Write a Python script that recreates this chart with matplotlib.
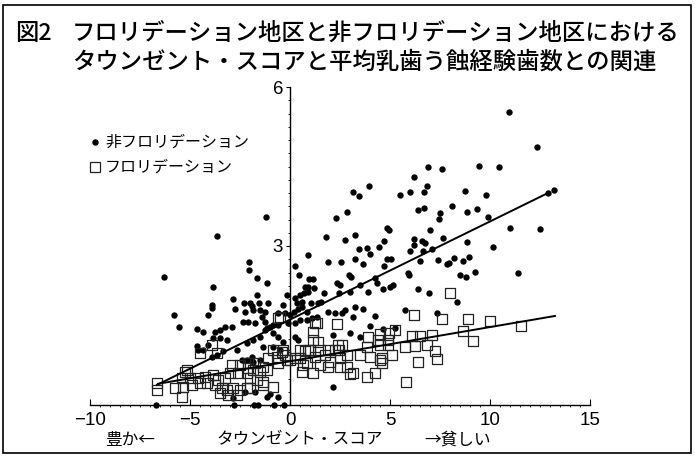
import numpy as np
import matplotlib
matplotlib.use('Agg')
import matplotlib.pyplot as plt
from matplotlib.lines import Line2D
from matplotlib.patches import Rectangle

plt.rcParams['font.family'] = ['Noto Sans CJK JP', 'DejaVu Sans']

# 非フロリデーション地区 (x: タウンゼント・スコア, y: 平均乳歯う蝕経験歯数)
non_fl = np.array([
    (10.95, 5.53), (12.35, 4.87), (6.9, 4.49), (7.6, 4.45), (9.45, 4.51), (10.45, 4.49), (6.2, 4.30),
    (3.95, 4.13), (3.15, 4.02), (3.45, 3.94), (5.5, 3.96), (6.0, 4.02), (6.7, 4.02), (6.85, 4.13),
    (8.75, 4.04), (9.8, 3.96), (12.9, 4.0), (13.2, 4.06),
    (2.85, 3.64), (2.3, 3.53), (6.4, 3.68), (6.7, 3.72), (7.5, 3.62), (8.1, 3.75), (8.85, 3.64),
    (9.35, 3.70), (9.9, 3.55), (7.45, 3.51),
    (4.85, 3.34), (4.95, 3.30), (7.0, 3.30), (11.0, 3.34), (12.5, 3.32), (1.8, 3.17), (3.25, 3.21),
    (2.75, 3.11), (4.7, 3.09), (6.2, 3.13), (6.6, 3.09), (6.75, 3.06), (7.65, 3.15),
    (4.45, 2.98), (6.2, 3.02), (3.45, 2.94), (3.85, 2.96), (6.0, 2.91), (6.65, 2.91), (7.1, 2.94),
    (8.85, 3.08), (10.15, 2.98),
    (0.9, 2.83), (4.0, 2.85), (3.25, 2.75), (4.85, 2.75), (5.05, 2.75), (6.5, 2.72), (7.4, 2.74),
    (8.2, 2.77), (8.95, 2.79), (8.65, 2.72),
    (1.9, 2.70), (2.55, 2.70), (3.65, 2.66), (4.7, 2.62), (7.85, 2.66), (7.95, 2.68), (0.25, 2.62),
    (0.45, 2.45), (2.95, 2.45), (3.05, 2.42), (5.9, 2.49), (5.95, 2.45), (8.5, 2.45), (8.8, 2.42),
    (9.25, 2.51), (11.4, 2.49), (0.95, 2.38), (1.15, 2.38),
    (-1.2, 3.55), (-3.65, 3.19), (-2.05, 2.70), (-2.05, 2.55), (-6.3, 2.42), (-1.65, 2.40), (-3.85, 2.23),
    (-5.8, 1.70), (-5.55, 1.47), (-4.65, 1.43), (-4.1, 1.70), (-3.9, 1.89), (-3.9, 1.83), (-2.85, 2.0),
    (-2.75, 1.81), (-2.3, 1.92), (-1.9, 1.87), (-1.55, 1.92), (-1.1, 1.92), (-2.35, 1.57), (-1.65, 2.08),
    (-0.35, 1.89), (-0.15, 2.08), (-0.6, 1.74),
    (-4.35, 1.38), (-3.75, 1.38), (-3.5, 1.42), (-3.25, 1.47), (-2.9, 1.47), (-4.65, 1.11), (-4.6, 1.04),
    (-4.35, 1.04), (-4.1, 1.13), (-3.85, 1.26), (-3.5, 1.26), (-3.15, 1.23), (-3.9, 0.91), (-3.65, 0.94),
    (-3.35, 1.02), (-2.65, 1.04), (-2.15, 1.17), (-1.85, 1.23), (-1.5, 1.28), (-1.25, 1.42),
    (-2.4, 0.85), (-2.15, 0.85), (-1.9, 0.91), (-1.85, 0.81), (-1.5, 0.85), (-1.0, 1.47), (-0.85, 1.36),
    (-0.6, 1.28), (-0.35, 1.19), (-1.35, 1.09), (-0.85, 1.09), (-0.5, 1.04),
    (-2.85, 0.13), (-2.25, 0.25), (-1.75, 0.25), (-1.15, 0.15), (-0.6, 0.15), (-1.0, 0.2),
    (-6.7, 0.0), (-2.8, 0.0), (-1.8, 0.0), (-1.6, 0.0), (-0.8, 0.0), (-0.3, 0.0),
    (-1.15, 2.30), (0.75, 2.23), (2.35, 2.30), (-2.0, 1.92), (0.25, 2.02), (0.5, 2.08), (0.7, 2.11),
    (0.9, 2.13), (0.35, 1.92), (0.6, 1.94), (1.2, 2.21), (1.7, 2.11), (1.05, 1.92), (1.4, 1.92),
    (1.55, 1.94), (2.45, 2.11),
    (-2.25, 1.75), (-1.85, 1.79), (-1.5, 1.79), (-1.25, 1.75), (-1.4, 1.66), (-2.1, 1.57), (-1.75, 1.55),
    (-1.25, 1.57), (-0.25, 1.74), (0.0, 1.70), (0.2, 1.75), (0.4, 1.81), (0.6, 1.85), (0.85, 1.75),
    (1.1, 1.64), (1.35, 1.66), (1.9, 1.75), (2.25, 1.74), (2.6, 1.74),
    (-1.15, 1.45), (-0.85, 1.51), (-0.6, 1.51), (-0.1, 1.55), (0.25, 1.55), (0.5, 1.60), (0.85, 1.60),
    (4.25, 2.40), (4.35, 2.30), (2.5, 2.26), (3.0, 2.13), (3.5, 2.26), (3.9, 2.13), (4.65, 2.19),
    (5.0, 2.23), (5.15, 2.26), (6.4, 2.19), (6.95, 2.11),
    (2.75, 1.79), (3.25, 1.85), (3.65, 1.81), (3.15, 1.66), (4.25, 1.68), (5.75, 1.79), (7.35, 1.74),
    (4.0, 1.49), (4.65, 1.43), (5.25, 1.45),
    (0.9, 2.23), (8.35, 1.94), (3.0, 1.36), (3.5, 1.28), (2.15, 0.34),
    (0.25, 1.28), (0.4, 1.23), (2.15, 1.32),
])

# フロリデーション地区
fl = np.array([
    (8.0, 2.11), (6.2, 1.70), (7.6, 1.62), (8.9, 1.62), (10.0, 1.58), (11.55, 1.49), (8.65, 1.40),
    (9.15, 1.21), (2.35, 1.53), (1.25, 1.55),
    (5.25, 1.42), (4.95, 1.36), (4.5, 1.34), (3.9, 1.28), (4.4, 1.23), (4.9, 1.23), (6.1, 1.30),
    (6.5, 1.30), (7.1, 1.32),
    (6.25, 1.11), (6.85, 1.13), (7.25, 1.02), (7.35, 0.87), (6.4, 0.81), (5.8, 0.43),
    (2.4, 1.13), (2.45, 1.04), (1.9, 1.04), (1.5, 1.04), (1.0, 1.04),
    (3.85, 1.09), (3.5, 0.94), (4.0, 0.91), (4.6, 0.89), (5.1, 0.94), (4.5, 0.85),
    (2.5, 0.72), (3.0, 0.58), (3.85, 0.53), (4.25, 0.60), (2.0, 0.81),
    (0.6, 0.62), (1.15, 0.60), (1.5, 0.75), (1.9, 0.72),
    (0.75, 1.02), (-0.35, 1.04), (-0.15, 0.85), (0.5, 0.89), (0.65, 0.75),
    (1.15, 1.23), (1.4, 1.19), (1.15, 1.38), (-0.5, 1.66),
    (4.5, 1.13), (4.9, 1.13), (5.75, 1.09), (4.6, 0.79), (2.85, 0.94), (2.5, 0.89), (2.85, 0.72),
    (3.15, 0.60),
    (-6.65, 0.42), (-6.65, 0.28), (-5.4, 0.15), (-5.75, 0.32), (-5.35, 0.34), (-4.9, 0.38),
    (-4.5, 0.42), (-4.15, 0.42),
    (-5.4, 0.51), (-5.0, 0.51), (-4.6, 0.51), (-4.25, 0.53), (-3.85, 0.57),
    (-3.75, 0.38), (-3.4, 0.32), (-3.15, 0.28), (-2.85, 0.32), (-2.5, 0.28), (-2.15, 0.32),
    (-3.5, 0.23), (-3.1, 0.19), (-2.65, 0.19),
    (-2.9, 0.75), (-2.5, 0.75), (-2.1, 0.79), (-3.0, 0.60), (-2.6, 0.60), (-2.15, 0.60),
    (-3.9, 1.13), (-4.5, 0.98), (-5.15, 0.66), (-5.25, 0.62), (-3.6, 0.47), (-3.25, 0.51),
    (-3.65, 0.98),
    (-1.85, 0.66), (-1.5, 0.62), (-1.15, 0.66), (-1.65, 0.47), (-1.35, 0.43), (-0.85, 0.34),
    (-1.1, 0.89), (-0.65, 0.91), (-0.25, 0.94), (0.0, 0.85), (-0.6, 1.64), (-0.85, 1.04), (-0.4, 1.0),
    (0.5, 1.04), (0.9, 1.04), (1.25, 0.91), (1.75, 0.94), (2.25, 1.04), (2.6, 1.13),
    (-1.35, 0.72), (-1.75, 0.79), (-2.1, 0.70), (0.25, 0.89), (-0.6, 0.79),
    (-2.0, 0.51), (-2.0, 0.32), (-1.35, 0.38), (0.85, 0.79), (1.35, 1.55),
])

# 回帰直線の両端
non_fl_line_x = [-6.65, 12.9]
non_fl_line_y = [0.38, 4.0]
fl_line_x = [-6.6, 13.25]
fl_line_y = [0.40, 1.68]

x_ticks = [-10, -5, 0, 5, 10, 15]
y_ticks = [3, 6]

W, H = 695, 457
fig = plt.figure(figsize=(W / 100, H / 100), dpi=100)
ax = fig.add_axes([90 / W, 52 / H, 500 / W, 318 / H])

ax.scatter(non_fl[:, 0], non_fl[:, 1], s=21, color='black', linewidths=0, clip_on=False, zorder=3)
ax.scatter(fl[:, 0], fl[:, 1], s=56, marker='s', facecolors='none', edgecolors='#222222',
           linewidths=0.9, clip_on=False, zorder=3)
ax.plot(non_fl_line_x, non_fl_line_y, color='black', lw=1.4, zorder=4)
ax.plot(fl_line_x, fl_line_y, color='black', lw=1.4, zorder=4)

ax.set_xlim(-10, 15)
ax.set_ylim(0, 6)
ax.spines['left'].set_position(('data', 0))
ax.spines['bottom'].set_position(('data', 0))
ax.spines['top'].set_visible(False)
ax.spines['right'].set_visible(False)
ax.spines['left'].set_linewidth(1.0)
ax.spines['bottom'].set_linewidth(1.0)

ax.set_xticks(x_ticks)
ax.set_yticks(y_ticks)
ax.set_xticks(np.arange(-10, 15.1, 0.5), minor=True)
ax.set_yticks(np.arange(0, 6.01, 0.25), minor=True)
ax.tick_params(axis='x', which='major', direction='in', length=4, pad=5)
ax.tick_params(axis='y', which='major', direction='out', length=3, pad=2)
ax.tick_params(which='minor', length=1.5, width=0.6)
for lab in ax.get_xticklabels() + ax.get_yticklabels():
    lab.set_family('Liberation Sans')
    lab.set_fontsize(13.5)

# 凡例
fig.add_artist(Line2D([95 / W], [1 - 142 / H], marker='o', ms=3.6, color='black', lw=0,
                      transform=fig.transFigure))
fig.text(105 / W, 1 - 142 / H, '非フロリデーション', va='center', fontsize=11.5)
fig.add_artist(Line2D([95 / W], [1 - 167 / H], marker='s', ms=6.5, markerfacecolor='none',
                      markeredgecolor='#222222', markeredgewidth=0.9, lw=0,
                      transform=fig.transFigure))
fig.text(105 / W, 1 - 167 / H, 'フロリデーション', va='center', fontsize=11.5)

# タイトル
fig.text(15 / W, 1 - 33 / H, '図2', va='center', fontsize=16.8, weight='medium')
fig.text(72 / W, 1 - 33 / H, 'フロリデーション地区と非フロリデーション地区における',
         va='center', fontsize=16.8, weight='medium')
fig.text(72 / W, 1 - 62 / H, 'タウンゼント・スコアと平均乳歯う蝕経験歯数との関連',
         va='center', fontsize=16.8, weight='medium')

# x軸の説明
fig.text(130 / W, 1 - 440 / H, '豊か←', ha='center', va='center', fontsize=12)
fig.text(300 / W, 1 - 440 / H, 'タウンゼント・スコア', ha='center', va='center', fontsize=12)
fig.text(458 / W, 1 - 440 / H, '→貧しい', ha='center', va='center', fontsize=12)

fig.add_artist(Rectangle((3 / W, 4 / H), 688 / W, 448 / H, fill=False, lw=1.2,
                         edgecolor='black', transform=fig.transFigure))

fig.savefig('out.png', dpi=100)
